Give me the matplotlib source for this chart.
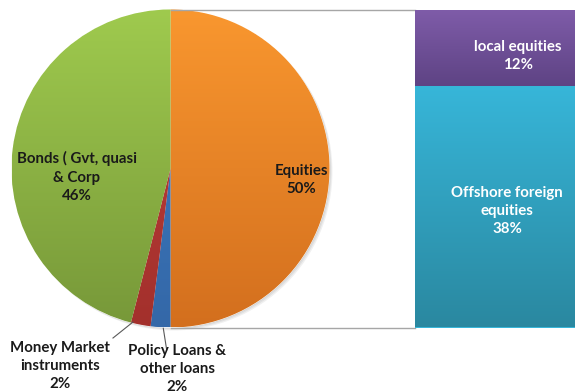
import numpy as np
import matplotlib
matplotlib.use("Agg")
import matplotlib.pyplot as plt
from matplotlib.colors import LinearSegmentedColormap
from matplotlib.patches import Circle

# ---- data ----
pie_labels = ["Equities\n50%", "Policy Loans &\nother loans\n2%",
              "Money Market\ninstruments\n2%", "Bonds ( Gvt, quasi\n& Corp\n46%"]
pie_values = [50, 2, 2, 46]
pie_top = ["#F9972F", "#3E7CC4", "#C0403B", "#9FCA4E"]
pie_bot = ["#D36F1E", "#3468A8", "#A3302C", "#779839"]

bar_labels = ["Offshore foreign\nequities\n38%", "local equities\n12%"]
bar_values = [38, 12]
bar_top = ["#37B6D9", "#7F5CA9"]
bar_bot = ["#2A88A0", "#5E4384"]

FONT = "Lato"
W, H = 575, 391
fig = plt.figure(figsize=(W / 100, H / 100), dpi=100)
ax = fig.add_axes([0, 0, 1, 1])
ax.set_xlim(0, W)
ax.set_ylim(0, H)
ax.axis("off")

cx, cy, R = 170.5, H - 168.5, 159

# shadow
for i in range(3):
    ax.add_patch(Circle((cx + 1 + i, cy - 1 - i), R, color="black", alpha=0.06, lw=0, zorder=0))

wedges, _ = ax.pie(pie_values, startangle=90, counterclock=False, center=(cx, cy),
                   radius=R, frame=True,
                   wedgeprops=dict(linewidth=0.6, edgecolor="white"))
ax.set_aspect("auto")
ax.axis("off")

grad = np.linspace(1, 0, 256).reshape(-1, 1)
for w, ct, cb in zip(wedges, pie_top, pie_bot):
    w.set_facecolor(ct)
    cmap = LinearSegmentedColormap.from_list("g", [cb, ct])
    im = ax.imshow(grad, cmap=cmap, aspect="auto",
                   extent=(cx - R, cx + R, cy - R, cy + R), origin="upper", zorder=1.5)
    im.set_clip_path(w)
ax.set_xlim(0, W)
ax.set_ylim(0, H)

# connector lines
bx0 = 415
ax.plot([cx, bx0], [cy + R, cy + R], color="#A6A6A6", lw=1, zorder=3)
ax.plot([cx, bx0], [cy - R, cy - R], color="#A6A6A6", lw=1, zorder=3)

# bar of pie
bax = fig.add_axes([bx0 / W, (cy - R) / H, 190 / W, 2 * R / H])
bax.axis("off")
bottom = 0
for v, ct, cb in zip(bar_values, bar_top, bar_bot):
    b = bax.bar(0, v, bottom=bottom, width=1, color=ct, lw=0)[0]
    cmap = LinearSegmentedColormap.from_list("g", [cb, ct])
    im = bax.imshow(grad, cmap=cmap, aspect="auto",
                    extent=(-0.5, 0.5, bottom, bottom + v), origin="upper", zorder=1.5)
    im.set_clip_path(b)
    bottom += v
bax.set_xlim(-0.5, 0.5)
bax.set_ylim(0, sum(bar_values))

# labels (figure-level so they sit above both axes)
tk = dict(fontfamily=FONT, fontweight="bold", fontsize=10.8, ha="center", va="center",
          linespacing=1.38, color="#1a1a1a", zorder=10)
def ftext(x, y, s, **kw):
    fig.text(x / W, 1 - y / H, s, **kw)

ftext(301, 180, pie_labels[0], **tk)
ftext(177, 369, pie_labels[1], **tk)
ftext(60, 366, pie_labels[2], **tk)
ftext(77, 177, pie_labels[3], **tk)

tw = dict(tk, color="white")
ftext(507, 211, bar_labels[0], **tw)
ftext(518, 56, bar_labels[1], **tw)

# leader lines
ax.plot([163.3, 166.7], [H - 328.3, H - 350], color="#595959", lw=0.8, zorder=4)
ax.plot([133, 113], [H - 322, H - 338], color="#595959", lw=0.8, zorder=4)

fig.savefig("out.png", dpi=100)
